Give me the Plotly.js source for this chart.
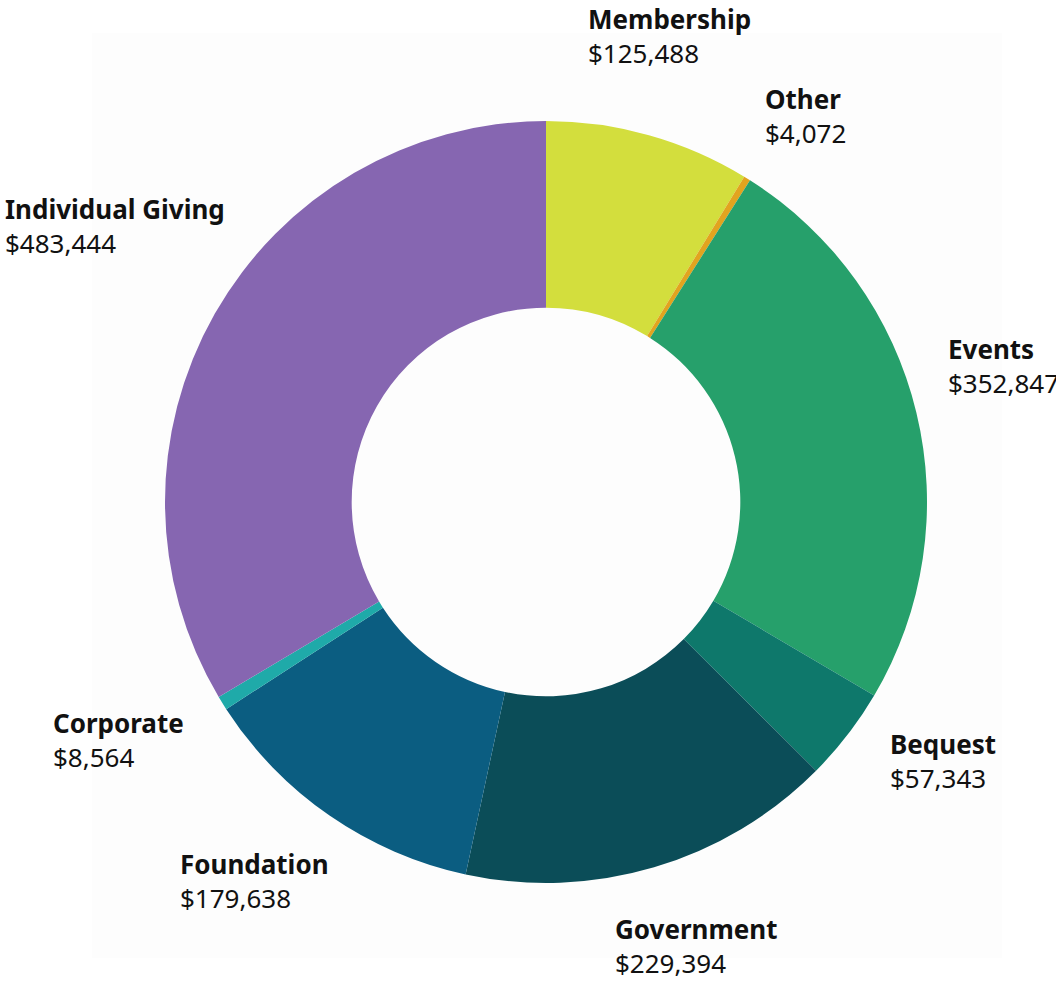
<!DOCTYPE html>
<html>
<head>
<meta charset="utf-8">
<script src="https://cdn.plot.ly/plotly-3.0.1.min.js"></script>
<style>
  html, body { margin: 0; padding: 0; background: #ffffff; }
  #chart { width: 1056px; height: 983px; }
</style>
</head>
<body>
<div id="chart"></div>
<script>
// Data (clockwise from 12 o'clock)
const categories = ["Membership", "Other", "Events", "Bequest", "Government", "Foundation", "Corporate", "Individual Giving"];
const amounts = [125488, 4072, 352847, 57343, 229394, 179638, 8564, 483444];
const sliceColors = ["#d3de3d", "#e2a41f", "#26a06b", "#0e786b", "#0b4d58", "#0b5d81", "#1faaa9", "#8666b1"];

// Label placement (pixel top-left of each label block)
const labelX = [588, 765, 948, 890, 615, 180, 53, 5];
const labelTop = [8, 88, 338, 733, 918, 853, 712, 198];

const W = 1056, H = 983;
const fontSize = 26;

function fmt(v) { return "$" + v.toLocaleString("en-US"); }

const annotations = categories.map((c, i) => ({
  xref: "paper", yref: "paper",
  x: (labelX[i] - 2) / W,
  y: 1 - (labelTop[i] - 0.36 * fontSize) / H,
  xanchor: "left", yanchor: "top", align: "left",
  showarrow: false,
  text: "<b>" + c + "</b><br>" + fmt(amounts[i]),
  font: { family: "Noto Sans, sans-serif", size: fontSize, color: "#111111" }
}));

const cx = 546, cy = 502, R = 381;

const trace = {
  type: "pie",
  labels: categories,
  values: amounts,
  sort: false,
  direction: "clockwise",
  rotation: 0,
  hole: 0.51,
  marker: { colors: sliceColors, line: { width: 0 } },
  textinfo: "none",
  hoverinfo: "label+value",
  domain: {
    x: [(cx - R) / W, (cx + R) / W],
    y: [1 - (cy + R) / H, 1 - (cy - R) / H]
  }
};

const layout = {
  width: W, height: H,
  margin: { l: 0, r: 0, t: 0, b: 0 },
  paper_bgcolor: "#ffffff",
  showlegend: false,
  annotations: annotations,
  shapes: [{
    type: "rect", xref: "paper", yref: "paper", layer: "below",
    x0: 92 / W, x1: 1002 / W, y0: 1 - 958 / H, y1: 1 - 33 / H,
    fillcolor: "#fdfdfd", line: { width: 0 }
  }]
};

Plotly.newPlot("chart", [trace], layout, { displayModeBar: false, staticPlot: true });
</script>
</body>
</html>
